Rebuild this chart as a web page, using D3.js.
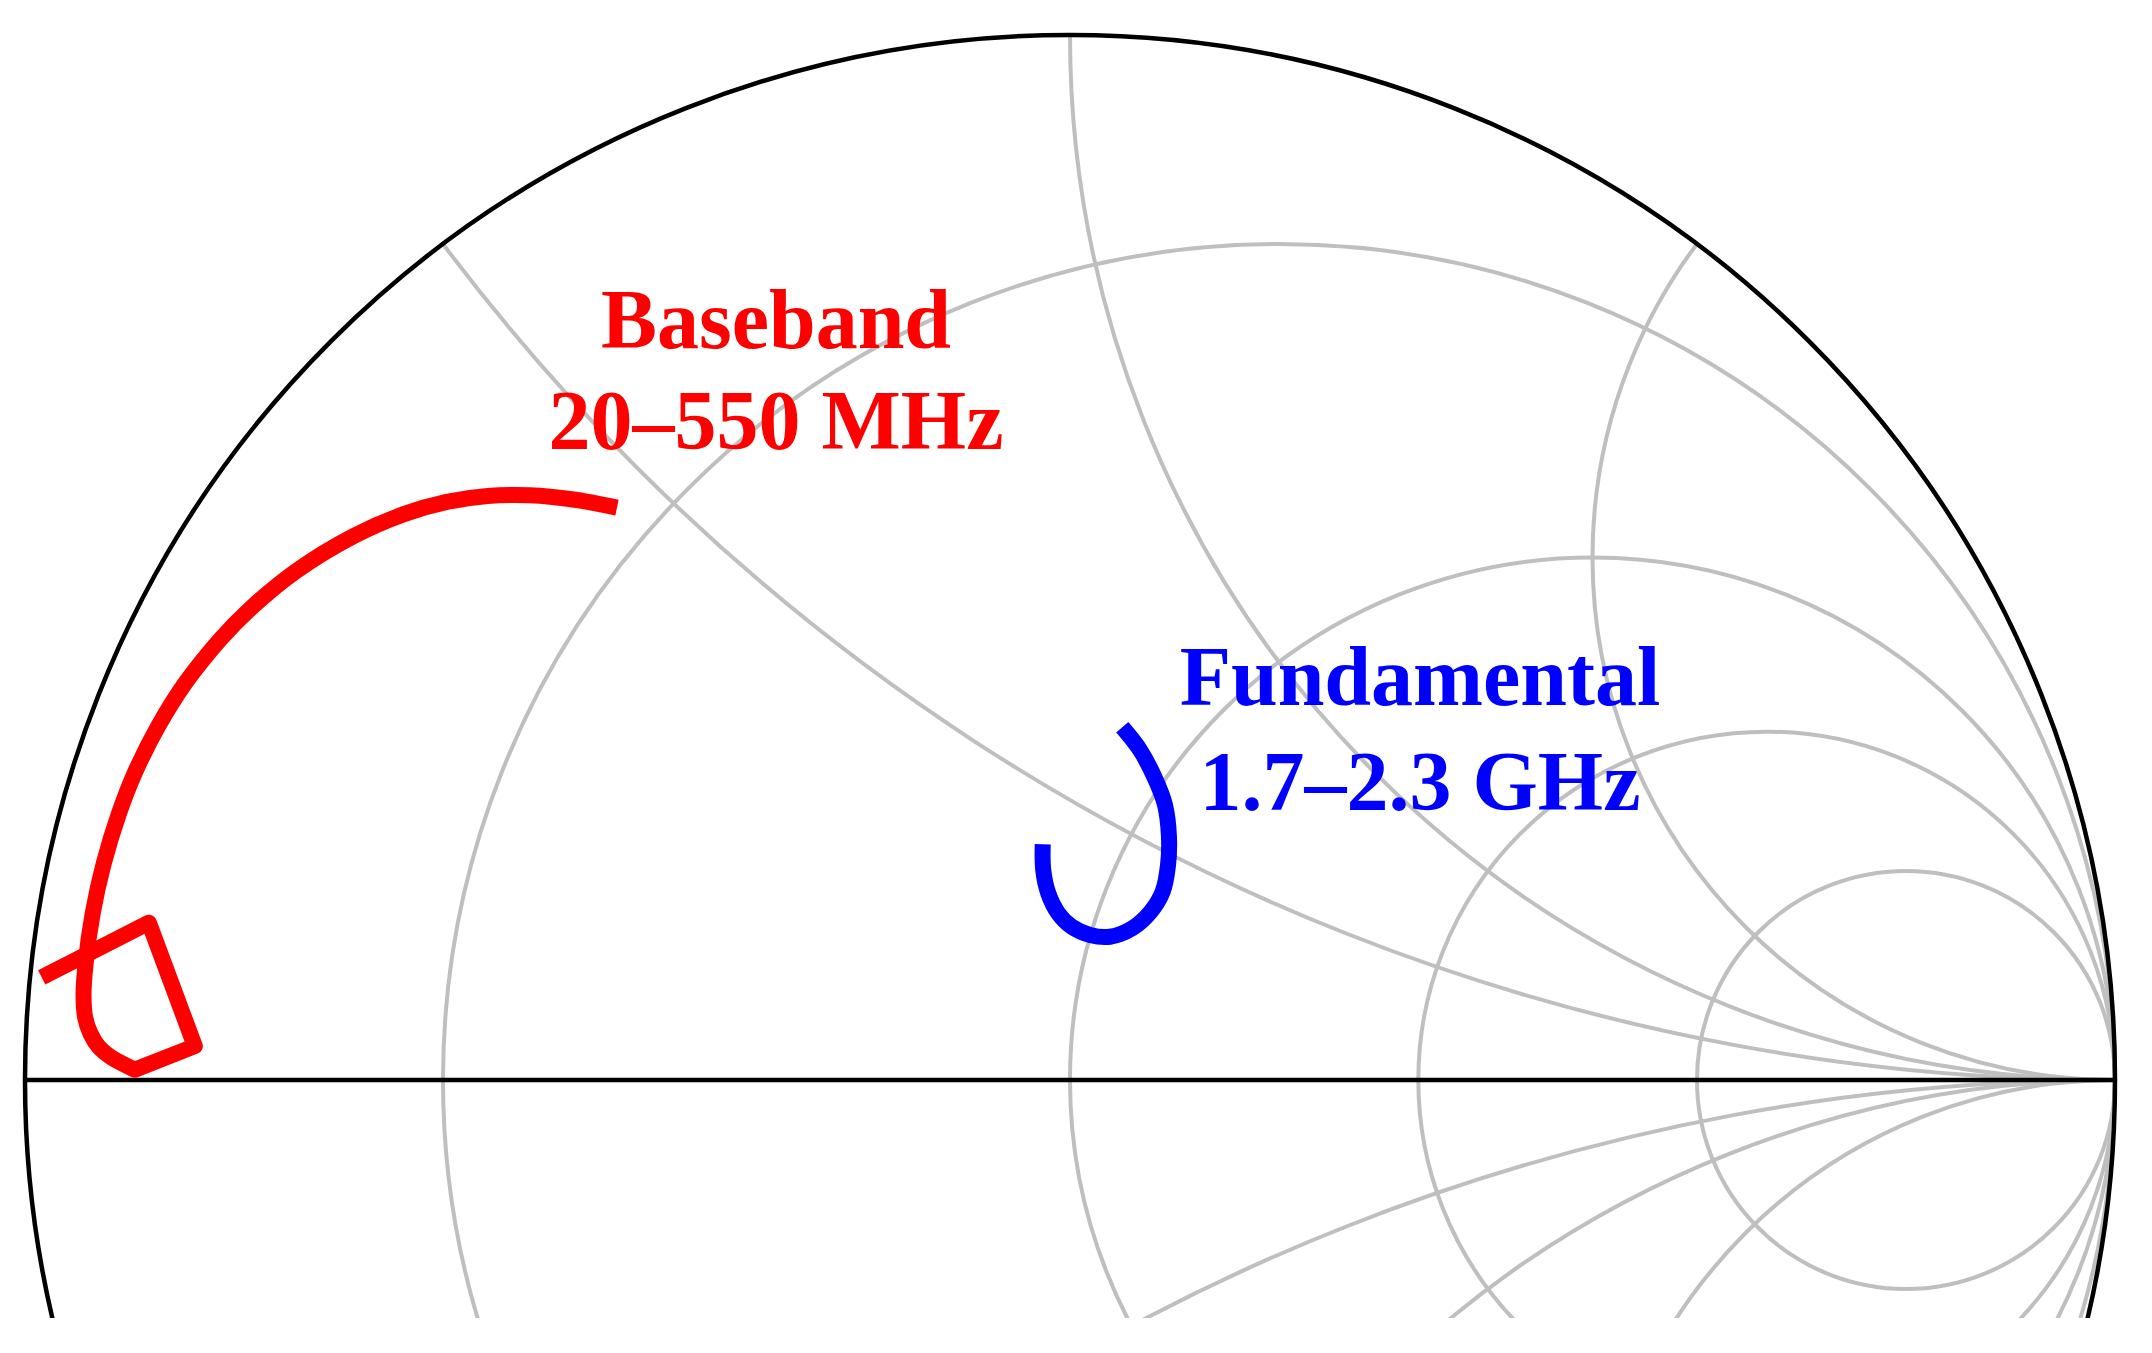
<!DOCTYPE html>
<html>
<head>
<meta charset="utf-8">
<script src="https://cdn.jsdelivr.net/npm/d3@7"></script>
<style>
  body { margin: 0; background: #fff; }
</style>
</head>
<body>
<div class="chart-container"></div>
<script>
// Smith chart grid values
const resistanceValues = [0.25, 1, 2, 4];
const reactanceValues = [0.5, 1, 2, -0.5, -1, -2];

// Baseband trace (reflection coefficient, re / im)
const basebandRe = [-0.4335, -0.4752, -0.5165, -0.5572, -0.5963, -0.6374, -0.6856, -0.7404, -0.7853, -0.8126,
  -0.8467, -0.8721, -0.8949, -0.9098, -0.9246, -0.9352, -0.9420, -0.9440,
  -0.9424, -0.9374, -0.9291, -0.9178, -0.8950, -0.8375, -0.8814, -0.9840];
const basebandIm = [0.5477, 0.5555, 0.5596, 0.5588, 0.5532, 0.5415, 0.5205, 0.4871, 0.4502, 0.4223,
  0.3798, 0.3393, 0.2940, 0.2558, 0.2074, 0.1595, 0.1114, 0.0813,
  0.0597, 0.0445, 0.0313, 0.0218, 0.0098, 0.0324, 0.1505, 0.0983];

// Fundamental trace
const fundamentalRe = [0.0500, 0.0670, 0.0813, 0.0909, 0.0947, 0.0938, 0.0887, 0.0772, 0.0596, 0.0383,
  0.0191, 0.0016, -0.0112, -0.0208, -0.0256, -0.0261];
const fundamentalIm = [0.3375, 0.3158, 0.2887, 0.2632, 0.2328, 0.2057, 0.1802, 0.1610, 0.1452, 0.1371,
  0.1388, 0.1467, 0.1595, 0.1787, 0.2010, 0.2256];

const basebandLabel = ["Baseband", "20–550 MHz"];
const fundamentalLabel = ["Fundamental", "1.7–2.3 GHz"];

const width = 2152, height = 1353;
const cx = 1070, cy = 1080, R = 1045;

let svg = d3.select(".chart-container").append("svg")
  .attr("width", width).attr("height", height)
  .style("display", "block");

svg.append("rect").attr("width", width).attr("height", height).attr("fill", "#fff");

let x = d3.scaleLinear().domain([-1, 1]).range([cx - R, cx + R]);
let y = d3.scaleLinear().domain([-1, 1]).range([cy + R, cy - R]);
const len = v => x(v) - x(0);

let defs = svg.append("defs");
defs.append("clipPath").attr("id", "crop")
  .append("rect").attr("x", 0).attr("y", 0).attr("width", width).attr("height", 1318);
defs.append("clipPath").attr("id", "unit")
  .append("circle").attr("cx", x(0)).attr("cy", y(0)).attr("r", len(1));

let chart = svg.append("g").attr("clip-path", "url(#crop)");

// grid
let grid = chart.append("g").attr("clip-path", "url(#unit)")
  .attr("fill", "none").attr("stroke", "#bfbfbf").attr("stroke-width", 4);

grid.selectAll(".res").data(resistanceValues).enter().append("circle")
  .attr("class", "res")
  .attr("cx", r => x(r / (r + 1)))
  .attr("cy", y(0))
  .attr("r", r => len(1 / (r + 1)));

grid.selectAll(".reac").data(reactanceValues).enter().append("circle")
  .attr("class", "reac")
  .attr("cx", x(1))
  .attr("cy", v => y(1 / v))
  .attr("r", v => len(1 / Math.abs(v)));

// outer circle and real axis
chart.append("line")
  .attr("x1", x(-1)).attr("x2", x(1)).attr("y1", y(0)).attr("y2", y(0))
  .attr("stroke", "#000").attr("stroke-width", 4.5);
chart.append("circle")
  .attr("cx", x(0)).attr("cy", y(0)).attr("r", len(1))
  .attr("fill", "none").attr("stroke", "#000").attr("stroke-width", 4.5);

// traces
let baseband = basebandRe.map((d, i) => [d, basebandIm[i]]);
let fundamental = fundamentalRe.map((d, i) => [d, fundamentalIm[i]]);

// smooth sweep down to the corner point, straight segments after it
let smoothLine = d3.line().curve(d3.curveCatmullRom.alpha(0.5)).x(d => x(d[0])).y(d => y(d[1]));
let straightLine = d3.line().x(d => x(d[0])).y(d => y(d[1]));
let bbPath = smoothLine(baseband.slice(0, 23)) + straightLine(baseband.slice(22)).replace(/^M/, "L");

chart.append("path")
  .attr("d", bbPath)
  .attr("fill", "none").attr("stroke", "#ff0000").attr("stroke-width", 16)
  .attr("stroke-linejoin", "round").attr("stroke-linecap", "butt");

chart.append("path").datum(fundamental)
  .attr("d", smoothLine)
  .attr("fill", "none").attr("stroke", "#0000ff").attr("stroke-width", 16)
  .attr("stroke-linecap", "butt");

// labels
function label(lines, px, py, dy, color) {
  chart.append("g").selectAll("text").data(lines).enter().append("text")
    .attr("x", px)
    .attr("y", (d, i) => py + i * dy)
    .attr("text-anchor", "middle")
    .attr("font-family", "'Liberation Serif', 'Times New Roman', serif")
    .attr("font-weight", "bold")
    .attr("font-size", 84)
    .attr("fill", color)
    .text(d => d);
}
label(basebandLabel, 776, 348, 101, "#ff0000");
label(fundamentalLabel, 1420, 705, 105, "#0000ff");
</script>
</body>
</html>
